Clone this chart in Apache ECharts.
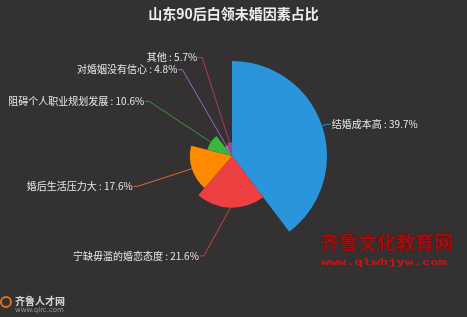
<!DOCTYPE html>
<html><head><meta charset="utf-8">
<script src="https://cdn.jsdelivr.net/npm/echarts@6/dist/echarts.min.js"></script>
<style>html,body{margin:0;padding:0;background:#333131;}#c{width:467px;height:317px;}</style>
</head><body><div id="c"></div>
<script>
var titleText = '山东90后白领未婚因素占比';
var categories = ['结婚成本高', '宁缺毋滥的婚恋态度', '婚后生活压力大', '阻碍个人职业规划发展', '对婚姻没有信心', '其他'];
var values = [39.7, 21.6, 17.6, 10.6, 4.8, 5.7];
var colors = ['#2a95da', '#ee4040', '#ff8a00', '#3bb53b', '#9a6cc4', '#a9457a'];
var lineColors = ['#2a95da', '#c8463c', '#d8702a', '#3a9a3a', '#9a6cc4', '#a8405e'];
// horizontal nudges of the outside labels (px)
var labelShift = [0, -25, 0, 0, 0, -12];

var R = 95;
var data = categories.map(function (n, i) {
  return {
    name: n, value: values[i],
    itemStyle: { color: colors[i] },
    labelLine: { lineStyle: { color: lineColors[i] } }
  };
});

var chart = echarts.init(document.getElementById('c'), null, { renderer: 'canvas' });
chart.setOption({
  backgroundColor: '#333131',
  animation: false,
  title: {
    text: titleText, left: 'center', top: 2,
    textStyle: { color: '#eeeeee', fontSize: 14, fontWeight: 'bold', fontFamily: 'Noto Sans CJK SC' }
  },
  series: [{
    type: 'pie',
    roseType: 'radius',
    center: [232, 156],
    radius: [0, R],
    startAngle: 90,
    clockwise: true,
    avoidLabelOverlap: true,
    label: {
      show: true, position: 'outside',
      formatter: '{b} : {c}%', overflow: 'none',
      color: '#e8e8e8', fontSize: 10, fontFamily: 'Noto Sans CJK SC',
      distanceToLabelLine: 1
    },
    labelLine: { show: true, length: 5, length2: 4, smooth: false, lineStyle: { width: 1 } },
    labelLayout: function (p) {
      var s = labelShift[p.dataIndex];
      if (!s || !p.labelLinePoints) return {};
      var pts = p.labelLinePoints;
      return {
        x: p.labelRect.x + s,
        y: p.labelRect.y,
        align: 'left', verticalAlign: 'top',
        labelLinePoints: [pts[0], [pts[1][0] + s, pts[1][1]], [pts[2][0] + s, pts[2][1]]]
      };
    },
    data: data
  }],
  graphic: [
    { type: 'text', left: 320, top: 233, style: { text: '齐鲁文化教育网', fill: '#a00e0e', stroke: '#5a0808', lineWidth: 0.5, font: 'bold 19px "Noto Sans CJK SC"' } },
    { type: 'text', x: 321, y: 258, scaleX: 1.55, style: { text: 'www.qlwhjyw.com', fill: '#c01818', font: 'bold 9px "DejaVu Sans Mono"' } },
    { type: 'text', left: 15, top: 296, style: { text: '齐鲁人才网', fill: '#d8d8d8', font: 'bold 10px "Noto Sans CJK SC"' } },
    { type: 'text', left: 15, top: 307, style: { text: 'www.qlrc.com', fill: '#9a9a9a', font: '7px "DejaVu Sans"' } },
    { type: 'circle', shape: { cx: 6, cy: 302, r: 5 }, style: { fill: 'none', stroke: '#e07020', lineWidth: 2 } }
  ]
});
</script></body></html>
